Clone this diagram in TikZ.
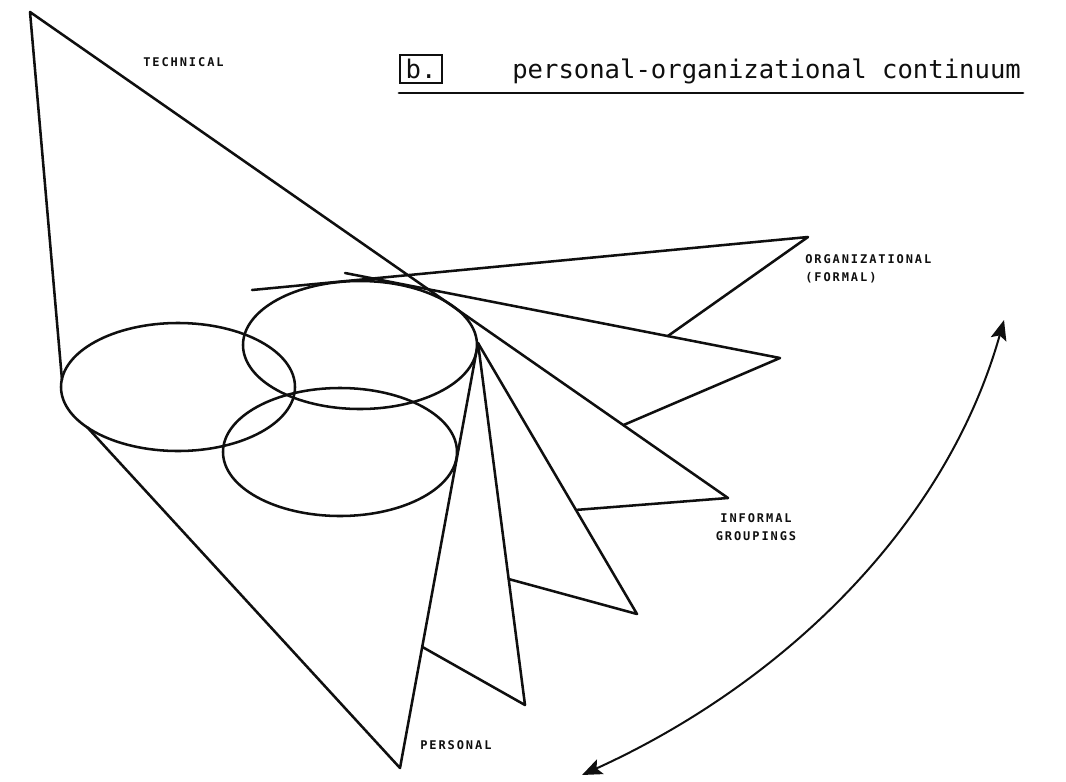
\documentclass[tikz,border=0pt]{standalone}
\usepackage{fontspec}
\newfontfamily\titlefont{DejaVu Sans Mono}
\newfontfamily\capsfont[LetterSpace=16]{DejaVu Sans Mono}
\definecolor{ink}{RGB}{15,15,15}
\usepackage{tikz}
\usetikzlibrary{arrows.meta,positioning,calc}

\begin{document}
\begin{tikzpicture}[x=0.75pt,y=-0.75pt,
  edge/.style={ink,line width=1.9pt,line join=round,line cap=round},
  lbl/.style={ink,inner sep=0pt,font=\capsfont\bfseries\fontsize{9}{14}\selectfont},
  ttl/.style={ink,inner sep=0pt,font=\titlefont\fontsize{19.2}{22}\selectfont}]
  \useasboundingbox (0,0) rectangle (1066,781);
  % Title
  \node[ttl,draw,line width=1.4pt,minimum width=32pt,minimum height=21pt] (boxb) at (421,69) {b.};
  \node[ttl,anchor=base west] (title) at (512,79) {personal-organizational continuum};
  \coordinate (ulA) at (399,93);
  \coordinate (ulB) at (1023,93);
  \draw[edge,line width=2.1pt] (ulA) -- (ulB);
  % Base ellipses
  \coordinate (eL) at (178,387);
  \coordinate (eU) at (360,345);
  \coordinate (eD) at (340,452);
  \foreach \c in {eL,eU,eD}
    \draw[edge] (\c) ellipse [x radius=117,y radius=64];
  % Cone apexes and hub
  \coordinate (tech) at (30,12);
  \coordinate (pers) at (400,768);
  \coordinate (hub) at (478,343);
  \coordinate (eLw) at (62,380);
  \coordinate (eLsw) at (87,427);
  % Tips of the fan
  \coordinate (tipP) at (525,705);
  \coordinate (tip3) at (637,614);
  \coordinate (tipI) at (728,498);
  \coordinate (tip5) at (780,358);
  \coordinate (tipO) at (808,237);
  \coordinate (s5) at (345,273);
  \coordinate (sO) at (252,290);
  % Technical cone
  \draw[edge] (eLw) -- (tech) -- (tipI);
  % Personal cone
  \draw[edge] (eLsw) -- (pers) -- (hub);
  % Fan blades, each folded back onto the one before
  \draw[edge] (hub) -- (tipP) -- ($(pers)!0.285!(hub)$);
  \draw[edge] (hub) -- (tip3) -- ($(hub)!0.652!(tipP)$);
  \draw[edge] (tipI) -- ($(hub)!0.616!(tip3)$);
  \draw[edge] (s5) -- (tip5) -- ($(tech)!0.85!(tipI)$);
  \draw[edge] (sO) -- (tipO) -- ($(s5)!0.742!(tip5)$);
  % Continuum arrow
  \coordinate (arrP) at (582,775);
  \coordinate (arrO) at (1004,320);
  \draw[edge,line width=1.5pt,{Stealth[length=15pt,width=12pt,inset=3pt]}-{Stealth[length=15pt,width=12pt,inset=3pt]}]
    (arrP) .. controls (780,685) and (945,529) .. (arrO);
  % Labels
  \node[lbl,anchor=west] (lTech) at (143,62) {TECHNICAL};
  \node[lbl,anchor=west] (lPers) at (420,745) {PERSONAL};
  \node[lbl,anchor=north west,align=left] (lOrg) at (805,254) {ORGANIZATIONAL\\(FORMAL)};
  \node[lbl,anchor=north,align=center] (lInf) at (756,513) {INFORMAL\\GROUPINGS};
\end{tikzpicture}
\end{document}
